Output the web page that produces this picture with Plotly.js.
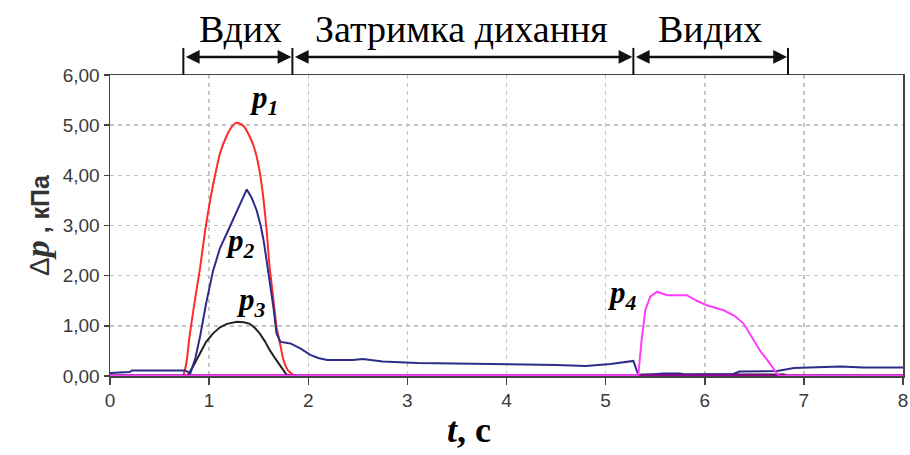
<!DOCTYPE html>
<html>
<head>
<meta charset="utf-8">
<script src="https://cdn.plot.ly/plotly-3.0.1.min.js"></script>
<style>html,body{margin:0;padding:0;background:#fff}#chart{width:910px;height:455px}</style>
</head>
<body>
<div id="chart"></div>
<script>
// ---- data ----
const p1T = [0.74, 0.77, 0.80, 0.84, 0.88, 0.91, 0.96, 1.01, 1.06, 1.11, 1.18, 1.23, 1.28, 1.35, 1.41, 1.45, 1.48, 1.52, 1.55, 1.58, 1.61, 1.65, 1.68, 1.72, 1.75, 1.80, 1.85];
const p1V = [0.00, 0.25, 0.75, 1.30, 1.80, 2.17, 2.90, 3.50, 4.00, 4.44, 4.80, 4.97, 5.05, 4.98, 4.77, 4.58, 4.37, 3.95, 3.50, 2.90, 2.18, 1.50, 0.98, 0.60, 0.32, 0.10, 0.02];

const p2T = [0, 0.20, 0.22, 0.76, 0.81, 0.86, 0.91, 0.97, 1.04, 1.11, 1.18, 1.25, 1.31, 1.38, 1.43, 1.48, 1.52, 1.55, 1.58, 1.61, 1.65, 1.68, 1.72, 1.82, 1.92, 2.02, 2.10, 2.19, 2.45, 2.55, 2.75, 3.10, 3.50, 4.00, 4.50, 4.80, 5.05, 5.28, 5.33, 5.40, 5.58, 5.75, 5.80, 6.29, 6.35, 6.73, 6.90, 7.37, 7.60, 8.00];
const p2V = [0.06, 0.08, 0.11, 0.11, 0.05, 0.35, 0.80, 1.45, 2.10, 2.55, 2.85, 3.15, 3.44, 3.72, 3.55, 3.30, 3.00, 2.70, 2.30, 1.91, 1.35, 0.85, 0.68, 0.65, 0.55, 0.42, 0.36, 0.32, 0.32, 0.34, 0.29, 0.26, 0.25, 0.24, 0.22, 0.20, 0.24, 0.30, 0.02, 0.02, 0.05, 0.05, 0.03, 0.04, 0.09, 0.10, 0.16, 0.19, 0.17, 0.17];

const p3T = [0, 0.78, 0.84, 0.91, 0.97, 1.04, 1.11, 1.18, 1.28, 1.35, 1.41, 1.46, 1.51, 1.56, 1.61, 1.67, 1.72, 1.78, 1.85, 5.33, 5.36, 6.80, 6.83, 8.00];
const p3V = [0, 0.00, 0.20, 0.46, 0.68, 0.85, 0.97, 1.04, 1.08, 1.07, 1.04, 0.96, 0.85, 0.70, 0.52, 0.34, 0.19, 0.03, 0.00, 0.00, 0.03, 0.03, 0.00, 0.00];

const p4T = [0, 5.33, 5.36, 5.40, 5.45, 5.52, 5.62, 5.82, 5.92, 6.02, 6.19, 6.30, 6.39, 6.49, 6.56, 6.63, 6.73, 6.76, 8.00];
const p4V = [0, 0.02, 0.66, 1.31, 1.58, 1.68, 1.61, 1.61, 1.50, 1.41, 1.31, 1.20, 1.05, 0.72, 0.50, 0.32, 0.05, 0.00, 0.00];

const baseT = [0, 8];
const baseV = [0, 0];

const xTickVals = [0, 1, 2, 3, 4, 5, 6, 7, 8];
const xTickLabels = ['0', '1', '2', '3', '4', '5', '6', '7', '8'];
const yTickVals = [0, 1, 2, 3, 4, 5, 6];
const yTickLabels = ['0,00', '1,00', '2,00', '3,00', '4,00', '5,00', '6,00'];

const phaseBounds = [0.74, 1.84, 5.28, 6.84];
const phaseLabels = ['Вдих', 'Затримка дихання', 'Видих'];
const phaseLabelX = [1.32, 3.55, 6.05];

const curveLabels = ['1', '2', '3', '4'];
const curveLabelX = [1.55, 1.31, 1.42, 5.17];
const curveLabelY = [5.50, 2.65, 1.47, 1.61];

// ---- traces ----
const traces = [
  {x: p1T, y: p1V, mode: 'lines', line: {color: '#ff2a2a', width: 2, shape: 'spline', smoothing: 0.6}, name: 'p1'},
  {x: p3T, y: p3V, mode: 'lines', line: {color: '#222222', width: 2}, name: 'p3'},
  {x: p2T, y: p2V, mode: 'lines', line: {color: '#2c2c8a', width: 2}, name: 'p2'},
  {x: baseT, y: baseV, mode: 'lines', line: {color: '#9b009b', width: 3.5}, name: 'base'},
  {x: p4T, y: p4V, mode: 'lines', line: {color: '#ff3cff', width: 2}, name: 'p4'}
];

const serif = 'Liberation Serif, Times New Roman, serif';
const annotations = [];
const shapes = [];
const arrowY = 1.06;

phaseBounds.forEach(b => {
  shapes.push({type: 'line', xref: 'x', yref: 'paper', x0: b, x1: b, y0: 1.0, y1: 1.09,
               line: {color: '#111', width: 2}});
});
for (let i = 0; i < phaseBounds.length - 1; i++) {
  annotations.push({x: phaseBounds[i + 1], y: arrowY, ax: phaseBounds[i], ay: 0,
    xref: 'x', yref: 'paper', axref: 'x', ayref: 'pixel', text: '', showarrow: true,
    arrowhead: 2, arrowside: 'end+start', arrowsize: 1.1, arrowwidth: 2.5,
    arrowcolor: '#111', standoff: 1, startstandoff: 1});
}
phaseLabels.forEach((t, i) => {
  annotations.push({x: phaseLabelX[i], y: 1.152, xref: 'x', yref: 'paper', yanchor: 'middle', text: t,
    showarrow: false, font: {family: serif, size: 38, color: '#000'}});
});
curveLabels.forEach((t, i) => {
  annotations.push({x: curveLabelX[i], y: curveLabelY[i], xref: 'x', yref: 'y',
    text: '<b><i>p</i></b><sub><b><i>' + t + '</i></b></sub>',
    showarrow: false, font: {family: serif, size: 31, color: '#000'}});
});
annotations.push({x: 3.62, y: -0.178, xref: 'x', yref: 'paper', yanchor: 'middle',
  text: '<b><i>t</i>, c</b>', showarrow: false, font: {family: serif, size: 36, color: '#000'}});

const layout = {
  width: 910, height: 455,
  margin: {l: 110, r: 7, t: 75, b: 79},
  paper_bgcolor: '#fff', plot_bgcolor: '#fff',
  showlegend: false,
  xaxis: {
    range: [0, 8], tickvals: xTickVals, ticktext: xTickLabels,
    showgrid: true, gridcolor: '#c4c4c4', gridwidth: 1.5, griddash: '4px,4px',
    zeroline: false, showline: true, linecolor: '#444', linewidth: 1.5, mirror: true,
    ticks: 'outside', ticklen: 7, tickcolor: '#444', tickwidth: 1.5,
    tickfont: {family: 'Liberation Sans, Arial, sans-serif', size: 19, color: '#3a3a3a'}
  },
  yaxis: {
    range: [0, 6], tickvals: yTickVals, ticktext: yTickLabels,
    showgrid: true, gridcolor: '#c4c4c4', gridwidth: 1.5, griddash: '4px,4px',
    zeroline: false, showline: true, linecolor: '#444', linewidth: 1.5, mirror: true,
    ticks: 'outside', ticklen: 5, tickcolor: '#444', tickwidth: 1.5,
    tickfont: {family: 'Liberation Sans, Arial, sans-serif', size: 19, color: '#3a3a3a'},
    title: {text: '<span style="font-size:28px">Δ</span><span style="font-family:Liberation Serif;font-size:34px"><b><i>p</i></b></span><b> , кПа</b>',
            font: {family: 'Liberation Sans, Arial, sans-serif', size: 25, color: '#333'}, standoff: 6}
  },
  shapes: shapes,
  annotations: annotations
};

Plotly.newPlot('chart', traces, layout, {displayModeBar: false, staticPlot: true});
</script>
</body>
</html>
